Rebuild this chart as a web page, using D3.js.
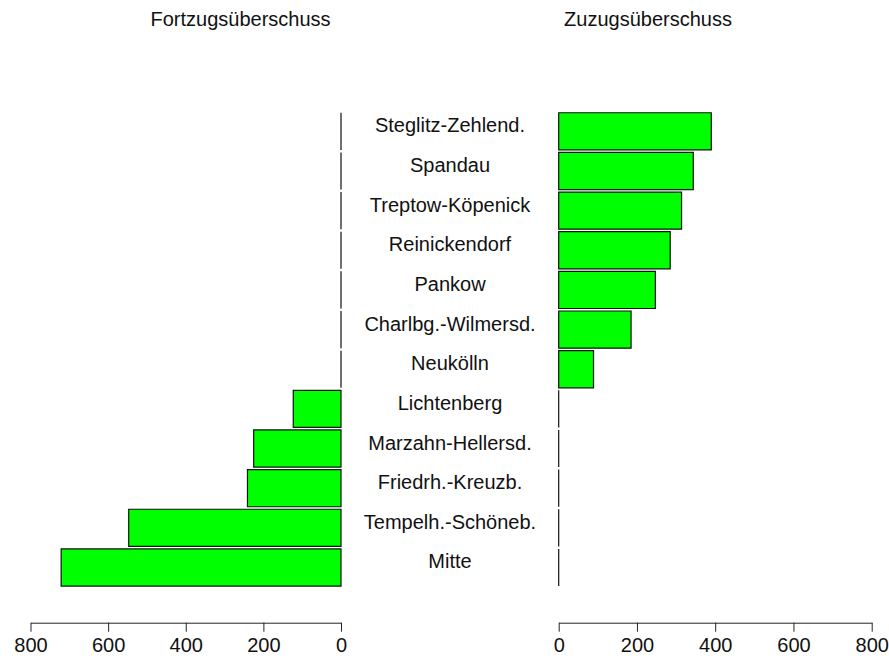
<!DOCTYPE html>
<html>
<head>
<meta charset="utf-8">
<script src="https://cdn.jsdelivr.net/npm/d3@7"></script>
<style>
  body { margin: 0; background: #fff; }
  svg { display: block; font-family: "Liberation Sans", Arial, Helvetica, sans-serif; }
</style>
</head>
<body>
<svg id="chart" width="889" height="664"></svg>
<script>
const districts = ["Steglitz-Zehlend.", "Spandau", "Treptow-Köpenick", "Reinickendorf", "Pankow",
  "Charlbg.-Wilmersd.", "Neukölln", "Lichtenberg", "Marzahn-Hellersd.", "Friedrh.-Kreuzb.",
  "Tempelh.-Schöneb.", "Mitte"];
const fortzug = [0, 0, 0, 0, 0, 0, 0, 123, 225, 241, 547, 721];
const zuzug = [390, 344, 314, 285, 247, 185, 89, 0, 0, 0, 0, 0];
const tickValues = [0, 200, 400, 600, 800];
const titles = ["Fortzugsüberschuss", "Zuzugsüberschuss"];

const svg = d3.select("#chart");

const y = d3.scaleBand().domain(districts).range([111.5, 587.3]).paddingInner(0.062).paddingOuter(0.031);
const xL = d3.scaleLinear().domain([800, 0]).range([30.5, 341]);
const xR = d3.scaleLinear().domain([0, 800]).range([558.7, 871.7]);

function barPath(x0, x1, y0, h) {
  return `M${x0},${y0}H${x1}V${y0 + h}H${x0}Z`;
}

// Left bars
svg.append("g").selectAll("path").data(districts).join("path")
  .attr("d", (d, i) => barPath(xL(fortzug[i]), xL(0), y(d), y.bandwidth()))
  .attr("fill", "#00ff00").attr("stroke", "#111").attr("stroke-width", 1.2);

// Right bars
svg.append("g").selectAll("path").data(districts).join("path")
  .attr("d", (d, i) => barPath(xR(0), xR(zuzug[i]), y(d), y.bandwidth()))
  .attr("fill", "#00ff00").attr("stroke", "#111").attr("stroke-width", 1.2);

// Labels
svg.append("g").selectAll("text").data(districts).join("text")
  .attr("x", 450).attr("y", d => y(d) + y.bandwidth() / 2 + 1)
  .attr("text-anchor", "middle").attr("font-size", 20).attr("fill", "#111")
  .text(d => d);

// Axes
function drawAxis(scale) {
  const g = svg.append("g").attr("transform", "translate(0,622.7)");
  g.call(d3.axisBottom(scale).tickValues(tickValues).tickSize(9).tickPadding(6).tickSizeOuter(0));
  g.select(".domain").attr("stroke", "#222");
  g.selectAll(".tick line").attr("stroke", "#222");
  g.selectAll(".tick text").attr("font-size", 20).attr("fill", "#111")
    .attr("font-family", "Liberation Sans, Arial, sans-serif");
  return g;
}
drawAxis(xL);
drawAxis(xR);

// Titles
svg.append("text").attr("x", 240.5).attr("y", 25.7).attr("text-anchor", "middle")
  .attr("font-size", 20).attr("fill", "#111").text(titles[0]);
svg.append("text").attr("x", 648).attr("y", 25.7).attr("text-anchor", "middle")
  .attr("font-size", 20).attr("fill", "#111").text(titles[1]);
</script>
</body>
</html>
